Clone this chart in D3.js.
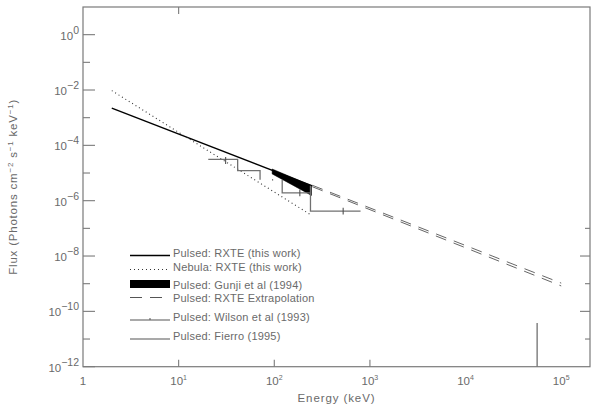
<!DOCTYPE html>
<html><head><meta charset="utf-8">
<script src="https://cdn.jsdelivr.net/npm/d3@7"></script>
<style>body{margin:0;background:#fff} text{font-family:"Liberation Sans",Arial,sans-serif}</style>
</head><body><svg id="c" width="595" height="407"></svg>
<script>
// ---- data ----
const xTickValues = [1, 10, 100, 1000, 10000, 100000];
const xTickExps = ["", "1", "2", "3", "4", "5"];
const xBottomTickValues = [10, 100, 1000];
const xTopTickValues = [10];
const yMajorExps = [0, -2, -4, -6, -8, -10, -12];
const yMinorExps = [-1, -3, -5, -7, -9, -11];
const yRightMajorExps = [-8, -10];
const yRightMinorExps = [-7, -9, -11];

const pulsedE = [2, 250];
const pulsedF = [2.2e-3, 3.45e-6];
const nebulaE = [2, 240];
const nebulaF = [9.5e-3, 3.1e-7];
const gunjiE = [95, 245];
const gunjiHi = [1.4e-5, 3.5e-6];
const gunjiLo = [9.3e-6, 1.55e-6];
const extrapE = [250, 100000];
const extrapHi = [3.6e-6, 1.05e-9];
const extrapLo = [3.2e-6, 8.3e-10];
const wilsonPathE = [[20.4, 41.4, 41.4, 71, 71], [121, 121, 239], [239, 239, 798]];
const wilsonPathF = [[3.1e-5, 3.1e-5, 1.23e-5, 1.23e-5, 5.7e-6], [5.7e-6, 1.93e-6, 1.93e-6], [3.5e-6, 4.2e-7, 4.2e-7]];
const wilsonErrE = [31, 96, 185, 525];
const wilsonErrLo = [2.1e-5, 5.4e-6, 1.45e-6, 3.15e-7];
const wilsonErrHi = [3.8e-5, 6.0e-6, 2.55e-6, 5.6e-7];
const fierroE = [56000, 56000];
const fierroF = [3.8e-11, 1e-12];
const legendLabels = ["Pulsed: RXTE (this work)", "Nebula: RXTE (this work)", "Pulsed: Gunji et al (1994)",
  "Pulsed: RXTE Extrapolation", "Pulsed: Wilson et al (1993)", "Pulsed: Fierro (1995)"];

// ---- chart ----
const svg = d3.select("#c");
const L = 83, R = 590, T = 7, B = 366.7;
const x = d3.scaleLog().domain([1, 2e5]).range([L, R]);
const y = d3.scaleLog().domain([1e-12, 10]).range([B, T]);
const axisCol = "#7a7a7a", textCol = "#6a6a6a";

svg.append("clipPath").attr("id", "clip").append("rect")
  .attr("x", L).attr("y", T).attr("width", R - L).attr("height", B - T);

// frame
svg.append("rect").attr("x", L).attr("y", T).attr("width", R - L).attr("height", B - T)
  .attr("fill", "none").attr("stroke", axisCol).attr("stroke-width", 1.2);

// left ticks
yMajorExps.concat(yMinorExps).forEach(e => {
  const len = yMajorExps.includes(e) ? 12 : 7;
  svg.append("line").attr("x1", L).attr("x2", L + len)
    .attr("y1", y(Math.pow(10, e))).attr("y2", y(Math.pow(10, e)))
    .attr("stroke", axisCol).attr("stroke-width", 1.1);
});
// right ticks
yRightMajorExps.concat(yRightMinorExps).forEach(e => {
  const len = yRightMajorExps.includes(e) ? 10 : 5;
  svg.append("line").attr("x1", R).attr("x2", R - len)
    .attr("y1", y(Math.pow(10, e))).attr("y2", y(Math.pow(10, e)))
    .attr("stroke", axisCol).attr("stroke-width", 1.1);
});
// bottom & top ticks
xBottomTickValues.forEach(v => {
  svg.append("line").attr("x1", x(v)).attr("x2", x(v)).attr("y1", B).attr("y2", B - 7)
    .attr("stroke", axisCol).attr("stroke-width", 1.1);
});
xTopTickValues.forEach(v => {
  svg.append("line").attr("x1", x(v)).attr("x2", x(v)).attr("y1", T).attr("y2", T + 7)
    .attr("stroke", axisCol).attr("stroke-width", 1.1);
});

// y tick labels
yMajorExps.forEach(e => {
  const t = svg.append("text").attr("x", L - 4).attr("y", y(Math.pow(10, e)) + 5)
    .attr("text-anchor", "end").attr("fill", textCol).attr("font-size", 11.5);
  t.append("tspan").text("10");
  t.append("tspan").attr("dy", -6).attr("font-size", 10.5).text(e === 0 ? "0" : "\u2212" + (-e));
});
// x tick labels
xTickValues.forEach((v, i) => {
  const t = svg.append("text").attr("x", x(v)).attr("y", 385)
    .attr("text-anchor", "middle").attr("fill", textCol).attr("font-size", 11.5);
  if (xTickExps[i] === "") { t.text("1"); }
  else {
    t.append("tspan").text("10");
    t.append("tspan").attr("dy", -5).attr("font-size", 7).text(xTickExps[i]);
  }
});
// axis titles
svg.append("text").attr("x", (L + R) / 2).attr("y", 402).attr("text-anchor", "middle")
  .attr("fill", textCol).attr("font-size", 11.5).attr("letter-spacing", 0.9).text("Energy (keV)");
const yt = svg.append("text").attr("transform", `translate(17,${(T + B) / 2}) rotate(-90)`)
  .attr("text-anchor", "middle").attr("fill", textCol).attr("font-size", 11.5).attr("letter-spacing", 0.8);
yt.append("tspan").text("Flux (Photons cm");
yt.append("tspan").attr("dy", -4).attr("font-size", 8).text("\u22122");
yt.append("tspan").attr("dy", 4).text(" s");
yt.append("tspan").attr("dy", -4).attr("font-size", 8).text("\u22121");
yt.append("tspan").attr("dy", 4).text(" keV");
yt.append("tspan").attr("dy", -4).attr("font-size", 8).text("\u22121");
yt.append("tspan").attr("dy", 4).text(")");

// data
const g = svg.append("g").attr("clip-path", "url(#clip)");
const line = d3.line().x(d => x(d[0])).y(d => y(d[1]));
const zip = (a, b) => a.map((v, i) => [v, b[i]]);

// Gunji wedge
g.append("path").attr("d", line(zip(gunjiE, gunjiHi).concat(zip(gunjiE, gunjiLo).reverse())) + "Z")
  .attr("fill", "#000").attr("stroke", "#000").attr("stroke-width", 0.5);
// pulsed RXTE
g.append("path").attr("d", line(zip(pulsedE, pulsedF))).attr("stroke", "#000").attr("stroke-width", 1.4).attr("fill", "none");
// nebula
g.append("path").attr("d", line(zip(nebulaE, nebulaF))).attr("stroke", "#333").attr("stroke-width", 1.1)
  .attr("stroke-dasharray", "1,3").attr("fill", "none");
// extrapolation
[extrapHi, extrapLo].forEach(f => {
  g.append("path").attr("d", line(zip(extrapE, f))).attr("stroke", "#555").attr("stroke-width", 0.9)
    .attr("stroke-dasharray", "11,8").attr("fill", "none");
});
// Wilson
wilsonPathE.forEach((es, i) => {
  g.append("path").attr("d", line(zip(es, wilsonPathF[i]))).attr("stroke", "#707070").attr("stroke-width", 1.3).attr("fill", "none");
});
wilsonErrE.forEach((e, i) => {
  g.append("line").attr("x1", x(e)).attr("x2", x(e)).attr("y1", y(wilsonErrLo[i])).attr("y2", y(wilsonErrHi[i]))
    .attr("stroke", "#505050").attr("stroke-width", 1.1);
});
// Fierro
g.append("path").attr("d", line(zip(fierroE, fierroF))).attr("stroke", "#707070").attr("stroke-width", 1.3).attr("fill", "none");

// legend
const lx0 = 130, lx1 = 170, tx = 173;
const rowY = [255.5, 269.5, 284, 297.5, 320, 339];
const textY = [257, 271, 288.5, 302, 321, 340];
const lg = svg.append("g");
lg.append("line").attr("x1", lx0).attr("x2", lx1).attr("y1", rowY[0]).attr("y2", rowY[0]).attr("stroke", "#000").attr("stroke-width", 1.4);
lg.append("line").attr("x1", lx0).attr("x2", lx1).attr("y1", rowY[1]).attr("y2", rowY[1]).attr("stroke", "#333").attr("stroke-width", 1.1).attr("stroke-dasharray", "1,3");
lg.append("rect").attr("x", lx0).attr("y", rowY[2] - 4).attr("width", lx1 - lx0).attr("height", 8).attr("fill", "#000");
lg.append("line").attr("x1", lx0).attr("x2", lx1 - 7).attr("y1", rowY[3]).attr("y2", rowY[3]).attr("stroke", "#555").attr("stroke-width", 1).attr("stroke-dasharray", "12,8");
lg.append("line").attr("x1", lx0).attr("x2", lx1).attr("y1", rowY[4]).attr("y2", rowY[4]).attr("stroke", "#555").attr("stroke-width", 1.1);
lg.append("line").attr("x1", 150).attr("x2", 150).attr("y1", rowY[4] - 2).attr("y2", rowY[4]).attr("stroke", "#555").attr("stroke-width", 1);
lg.append("line").attr("x1", lx0).attr("x2", lx1).attr("y1", rowY[5]).attr("y2", rowY[5]).attr("stroke", "#555").attr("stroke-width", 1.1);
legendLabels.forEach((s, i) => {
  lg.append("text").attr("x", tx).attr("y", textY[i]).attr("fill", textCol).attr("font-size", 11).attr("letter-spacing", 0.2).text(s);
});
</script></body></html>
